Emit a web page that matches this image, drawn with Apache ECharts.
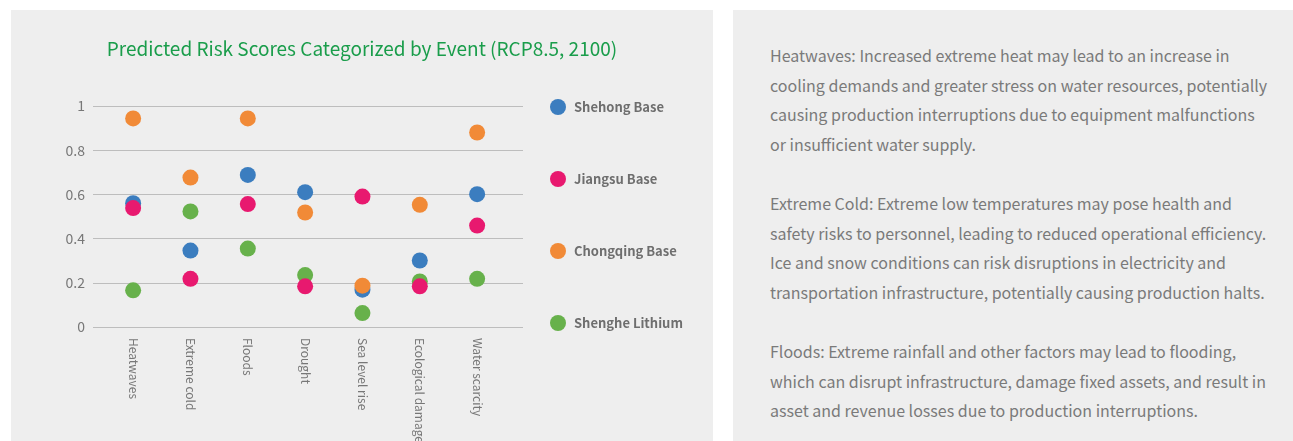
<!DOCTYPE html>
<html>
<head>
<meta charset="utf-8">
<script src="https://cdn.jsdelivr.net/npm/echarts@6/dist/echarts.min.js"></script>
<style>
  html, body { margin: 0; padding: 0; background: #fff; width: 1293px; height: 441px; overflow: hidden; }
  #chartPanel { position: absolute; left: 11px; top: 10px; width: 702px; height: 431px; background: #eeeeee; }
  #chart { width: 702px; height: 431px; }
  #textPanel { position: absolute; left: 733px; top: 10px; width: 560px; height: 431px; background: #eeeeee;
    font-family: "Noto Sans CJK SC", "Noto Sans", sans-serif; font-size: 16px; color: #7a7a7a; line-height: 29.6px; }
  #textPanel .inner { position: absolute; left: 37px; top: 31px; white-space: nowrap; }
  #textPanel p { margin: 0 0 29.6px 0; }
</style>
</head>
<body>
<div id="chartPanel"><div id="chart"></div></div>
<div id="textPanel"><div class="inner">
  <p>Heatwaves: Increased extreme heat may lead to an increase in<br>cooling demands and greater stress on water resources, potentially<br>causing production interruptions due to equipment malfunctions<br>or insufficient water supply.</p>
  <p>Extreme Cold: Extreme low temperatures may pose health and<br>safety risks to personnel, leading to reduced operational efficiency.<br>Ice and snow conditions can risk disruptions in electricity and<br>transportation infrastructure, potentially causing production halts.</p>
  <p>Floods: Extreme rainfall and other factors may lead to flooding,<br>which can disrupt infrastructure, damage fixed assets, and result in<br>asset and revenue losses due to production interruptions.</p>
</div></div>
<script>
// categories and risk scores
const events = ['Heatwaves', 'Extreme cold', 'Floods', 'Drought', 'Sea level rise', 'Ecological damage', 'Water scarcity'];
const shehong = [0.56, 0.346, 0.688, 0.61, 0.169, 0.301, 0.601];
const jiangsu = [0.538, 0.218, 0.556, 0.184, 0.59, 0.184, 0.459];
const chongqing = [0.944, 0.676, 0.944, 0.518, 0.187, 0.553, 0.88];
const shenghe = [0.166, 0.523, 0.355, 0.235, 0.063, 0.206, 0.218];
const yTicks = [0, 0.2, 0.4, 0.6, 0.8, 1];

const font = '"Noto Sans CJK SC", "Noto Sans", sans-serif';

function toPoints(values) {
    return values.map((v, i) => [i, v]); // index on the x axis, score on y
}

const chart = echarts.init(document.getElementById('chart'));

const option = {
    backgroundColor: 'transparent',
    title: {
        text: 'Predicted Risk Scores Categorized by Event (RCP8.5, 2100)',
        left: 'center',
        top: 24,
        textStyle: { color: '#1a9d4b', fontSize: 19, fontWeight: 'normal', fontFamily: font }
    },
    legend: {
        orient: 'vertical',
        left: 534,
        top: 84,
        itemGap: 56,
        itemWidth: 16,
        itemHeight: 16,
        icon: 'circle',
        data: ['Shehong Base', 'Jiangsu Base', 'Chongqing Base', 'Shenghe Lithium'],
        textStyle: { color: '#6e6e6e', fontSize: 13, fontWeight: 600, fontFamily: font, padding: [0, 0, 0, 3] }
    },
    grid: { left: 82, right: 190, top: 96, bottom: 114, outerBoundsMode: 'none' },
    xAxis: {
        type: 'value',
        min: -0.7,
        max: 6.8,
        axisLine: { show: false },
        axisTick: { show: false },
        splitLine: { show: false },
        axisLabel: {
            customValues: events.map((e, i) => i),
            formatter: v => events[Math.round(v)],
            rotate: -90,
            margin: 11,
            color: '#777',
            fontSize: 12,
            fontFamily: font
        }
    },
    yAxis: {
        type: 'value',
        min: yTicks[0],
        max: yTicks[yTicks.length - 1],
        interval: 0.2,
        axisLine: { show: false },
        axisTick: { show: false },
        splitLine: { lineStyle: { color: '#bdbdbd', width: 1 } },
        axisLabel: { margin: 8, color: '#777', fontSize: 14, fontFamily: font }
    },
    // draw order: blue, orange, green, pink (pink sits on top)
    series: [
        { name: 'Shehong Base', type: 'scatter', symbolSize: 16, itemStyle: { color: '#3b7dbf', opacity: 1 }, data: toPoints(shehong) },
        { name: 'Chongqing Base', type: 'scatter', symbolSize: 16, itemStyle: { color: '#f18a37', opacity: 1 }, data: toPoints(chongqing) },
        { name: 'Shenghe Lithium', type: 'scatter', symbolSize: 16, itemStyle: { color: '#67b14b', opacity: 1 }, data: toPoints(shenghe) },
        { name: 'Jiangsu Base', type: 'scatter', symbolSize: 16, itemStyle: { color: '#e8196f', opacity: 1 }, data: toPoints(jiangsu) }
    ]
};

option && chart.setOption(option);
</script>
</body>
</html>
